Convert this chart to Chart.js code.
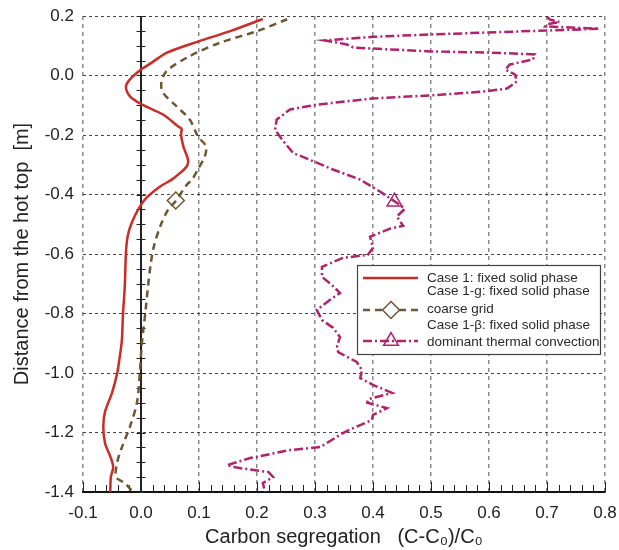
<!DOCTYPE html>
<html><head><meta charset="utf-8">
<script src="https://cdn.jsdelivr.net/npm/chart.js@4.4.1/dist/chart.umd.min.js"></script>
<style>html,body{margin:0;padding:0;background:#fff}#wrap{width:619px;height:550px}</style>
</head><body><div id="wrap"><canvas id="c" width="619" height="550"></canvas></div>
<script>
// ---- data (x = carbon segregation, y = distance from hot top) ----
const xTickValues = [-0.1,0,0.1,0.2,0.3,0.4,0.5,0.6,0.7,0.8];
const xTickLabels = ['-0.1','0.0','0.1','0.2','0.3','0.4','0.5','0.6','0.7','0.8'];
const yTickValues = [-1.4,-1.2,-1.0,-0.8,-0.6,-0.4,-0.2,0,0.2];
const yTickLabels = ['-1.4','-1.2','-1.0','-0.8','-0.6','-0.4','-0.2','0.0','0.2'];

const case1Y = [0.19,0.15,0.114,0.077,0.04,0.02,-0.013,-0.037,-0.07,-0.098,-0.131,-0.171,-0.18,-0.199,-0.238,-0.283,-0.305,-0.33,-0.35,-0.373,-0.41,-0.444,-0.495,-0.54,-0.597,-0.71,-0.8,-0.89,-0.95,-1.0,-1.067,-1.13,-1.18,-1.236,-1.28,-1.316,-1.35,-1.4];
const case1X = [0.21,0.155,0.098,0.045,0.016,0.0,-0.019,-0.026,-0.019,0.002,0.038,0.064,0.07,0.069,0.073,0.081,0.079,0.066,0.053,0.033,0.01,-0.003,-0.016,-0.023,-0.026,-0.028,-0.031,-0.033,-0.037,-0.041,-0.05,-0.062,-0.065,-0.062,-0.053,-0.048,-0.052,-0.053];

const case1gY = [0.189,0.149,0.11,0.065,0.015,-0.025,-0.058,-0.103,-0.148,-0.204,-0.238,-0.272,-0.316,-0.35,-0.367,-0.424,-0.45,-0.508,-0.576,-0.63,-0.71,-0.788,-0.855,-0.912,-1.0,-1.1,-1.18,-1.25,-1.3,-1.35,-1.37,-1.4];
const case1gX = [0.252,0.2,0.136,0.084,0.044,0.035,0.038,0.061,0.084,0.098,0.112,0.11,0.098,0.088,0.079,0.059,0.047,0.033,0.022,0.017,0.012,0.008,0.004,0.001,-0.002,-0.007,-0.019,-0.033,-0.041,-0.043,-0.028,-0.014];
const case1gMarkerX = [0.06];
const case1gMarkerY = [-0.42];

const case1bY = [0.198,0.188,0.18,0.172,0.165,0.157,0.148,0.138,0.13,0.118,0.11,0.104,0.094,0.081,0.077,0.071,0.054,0.037,0.02,0.003,-0.02,-0.044,-0.054,-0.067,-0.077,-0.098,-0.114,-0.148,-0.182,-0.215,-0.26,-0.293,-0.316,-0.35,-0.39,-0.428,-0.448,-0.474,-0.505,-0.515,-0.542,-0.579,-0.603,-0.613,-0.643,-0.677,-0.704,-0.731,-0.754,-0.788,-0.822,-0.848,-0.879,-0.91,-0.93,-0.963,-0.99,-1.017,-1.04,-1.067,-1.088,-1.1,-1.118,-1.141,-1.158,-1.185,-1.202,-1.249,-1.259,-1.286,-1.31,-1.318,-1.333,-1.35,-1.37,-1.4];
const case1bX = [0.7,0.705,0.722,0.7,0.697,0.79,0.65,0.5,0.4,0.317,0.34,0.355,0.366,0.498,0.602,0.679,0.676,0.636,0.628,0.645,0.648,0.631,0.59,0.498,0.4,0.303,0.257,0.234,0.231,0.243,0.262,0.303,0.331,0.378,0.412,0.441,0.455,0.441,0.452,0.429,0.395,0.4,0.391,0.348,0.312,0.312,0.329,0.343,0.326,0.303,0.312,0.331,0.343,0.338,0.34,0.372,0.381,0.378,0.4,0.433,0.392,0.39,0.424,0.4,0.398,0.366,0.348,0.309,0.257,0.188,0.148,0.165,0.22,0.228,0.21,0.214];
const case1bMarkerX = [0.437];
const case1bMarkerY = [-0.424];

const legendLabels = [
  ['Case 1: fixed solid phase'],
  ['Case 1-g: fixed solid phase', 'coarse grid'],
  ['Case 1-\u03b2: fixed solid phase', 'dominant thermal convection']
];

const xTitle = 'Carbon segregation   (C-C\u2080)/C\u2080';
const yTitle = 'Distance from the hot top  [m]';

// ---- build ----
const pts = (xs, ys) => xs.map((v, i) => ({x: v, y: ys[i]}));
const FONT = "'Liberation Sans', Arial, Helvetica, sans-serif";
const RED = '#cd2b26', BROWN = '#6e5632', MAG = '#b3206e';

const decor = {
  id: 'decor',
  beforeDatasetsDraw(chart) {
    const {ctx, chartArea: a, scales: {x, y}} = chart;
    ctx.save();
    ctx.strokeStyle = '#222';
    ctx.lineWidth = 1;
    for (let i = 0; i <= 45; i++) {
      const v = -0.1 + i * 0.02;
      const px = Math.round(x.getPixelForValue(v)) + 0.5;
      const len = (i % 5 === 0) ? 10 : 7;
      ctx.beginPath(); ctx.moveTo(px, a.bottom); ctx.lineTo(px, a.bottom - len); ctx.stroke();
    }
    const x0 = x.getPixelForValue(0);
    ctx.lineWidth = 2;
    ctx.beginPath(); ctx.moveTo(x0, a.top); ctx.lineTo(x0, a.bottom); ctx.stroke();
    ctx.lineWidth = 1;
    for (let i = 0; i <= 32; i++) {
      const v = -1.4 + i * 0.05;
      const py = Math.round(y.getPixelForValue(v)) + 0.5;
      ctx.beginPath(); ctx.moveTo(x0 - 4.5, py); ctx.lineTo(x0 + 4.5, py); ctx.stroke();
    }
    ctx.restore();
  }
};

const legendBox = {
  id: 'legendBox',
  afterDraw(chart) {
    const ctx = chart.ctx;
    const ds = chart.data.datasets;
    const L = 357, T = 265, R = 600, B = 354;
    ctx.save();
    ctx.fillStyle = '#fff';
    ctx.fillRect(L, T, R - L, B - T);
    ctx.strokeStyle = '#444'; ctx.lineWidth = 1.2;
    ctx.strokeRect(L + 0.5, T + 0.5, R - L, B - T);
    const entries = [
      {line: ds[0], marker: null, textY: [278], lineY: 278},
      {line: ds[1], marker: ds[3], textY: [291, 309], lineY: 310},
      {line: ds[2], marker: ds[4], textY: [325, 342], lineY: 341}
    ];
    ctx.font = '13.5px ' + FONT;
    ctx.textBaseline = 'middle';
    ctx.textAlign = 'left';
    entries.forEach((e, k) => {
      ctx.save();
      ctx.strokeStyle = e.line.borderColor;
      ctx.lineWidth = 2.5;
      ctx.setLineDash(e.line.borderDash || []);
      ctx.beginPath(); ctx.moveTo(363, e.lineY); ctx.lineTo(418, e.lineY); ctx.stroke();
      ctx.restore();
      if (e.marker) {
        ctx.save();
        ctx.strokeStyle = e.marker.borderColor;
        ctx.fillStyle = e.marker.backgroundColor;
        ctx.lineWidth = 1.5;
        Chart.helpers.drawPoint(ctx, {pointStyle: e.marker.pointStyle, radius: 8.5, borderWidth: 1.5, rotation: 0}, 391, e.lineY);
        ctx.restore();
      }
      ctx.fillStyle = '#2a2a2a';
      legendLabels[k].forEach((t, j) => ctx.fillText(t, 427, e.textY[j]));
    });
    ctx.restore();
  }
};

new Chart(document.getElementById('c'), {
  type: 'scatter',
  data: {
    datasets: [
      {label: legendLabels[0].join(' '), data: pts(case1X, case1Y), showLine: true, borderColor: RED, borderWidth: 2.5, pointRadius: 0, tension: 0.3, fill: false},
      {label: legendLabels[1].join(' '), data: pts(case1gX, case1gY), showLine: true, borderColor: BROWN, borderWidth: 2.5, borderDash: [7, 5], pointRadius: 0, tension: 0.3, fill: false},
      {label: legendLabels[2].join(' '), data: pts(case1bX, case1bY), showLine: true, borderColor: MAG, borderWidth: 2.5, borderDash: [9, 3, 2, 3], pointRadius: 0, tension: 0, fill: false},
      {label: 'marker-g', data: pts(case1gMarkerX, case1gMarkerY), showLine: false, pointStyle: 'rectRot', pointRadius: 8.5, borderColor: BROWN, backgroundColor: '#ffffff', pointBorderWidth: 1.5},
      {label: 'marker-b', data: pts(case1bMarkerX, case1bMarkerY), showLine: false, pointStyle: 'triangle', pointRadius: 8.5, borderColor: MAG, backgroundColor: 'rgba(255,255,255,0)', pointBorderWidth: 1.5}
    ]
  },
  options: {
    responsive: false,
    animation: false,
    devicePixelRatio: 1,
    layout: {padding: {top: 16, right: 14, left: 0, bottom: 0}},
    plugins: {legend: {display: false}, tooltip: {enabled: false}},
    scales: {
      x: {
        type: 'linear', min: -0.1, max: 0.8,
        afterBuildTicks: s => { s.ticks = xTickValues.map(v => ({value: v})); },
        afterFit: s => { s.height = 58; s.paddingLeft = 0; s.paddingRight = 0; },
        ticks: {
          callback: (v, i) => xTickLabels[i],
          font: {family: FONT, size: 17}, color: '#222', padding: 11, maxRotation: 0, autoSkip: false
        },
        grid: {color: '#8a8a8a', lineWidth: 1.5, drawTicks: false},
        border: {display: true, color: '#111', width: 2, dash: [4, 4]},
        title: {display: true, text: xTitle, font: {family: FONT, size: 20}, color: '#222', padding: {top: 0, bottom: 1}}
      },
      y: {
        type: 'linear', min: -1.4, max: 0.2,
        afterBuildTicks: s => { s.ticks = yTickValues.map(v => ({value: v})); },
        afterFit: s => { s.width = 83; s.paddingTop = 0; s.paddingBottom = 0; },
        ticks: {
          callback: (v, i) => yTickLabels[i],
          font: {family: FONT, size: 17}, color: '#222', padding: 9, autoSkip: false
        },
        grid: {color: '#444', lineWidth: 1, drawTicks: false},
        border: {display: false, dash: [3, 3]},
        title: {display: true, text: yTitle, font: {family: FONT, size: 20}, color: '#222', padding: {top: 10, bottom: 0}}
      }
    }
  },
  plugins: [decor, legendBox]
});
</script>
</body></html>
